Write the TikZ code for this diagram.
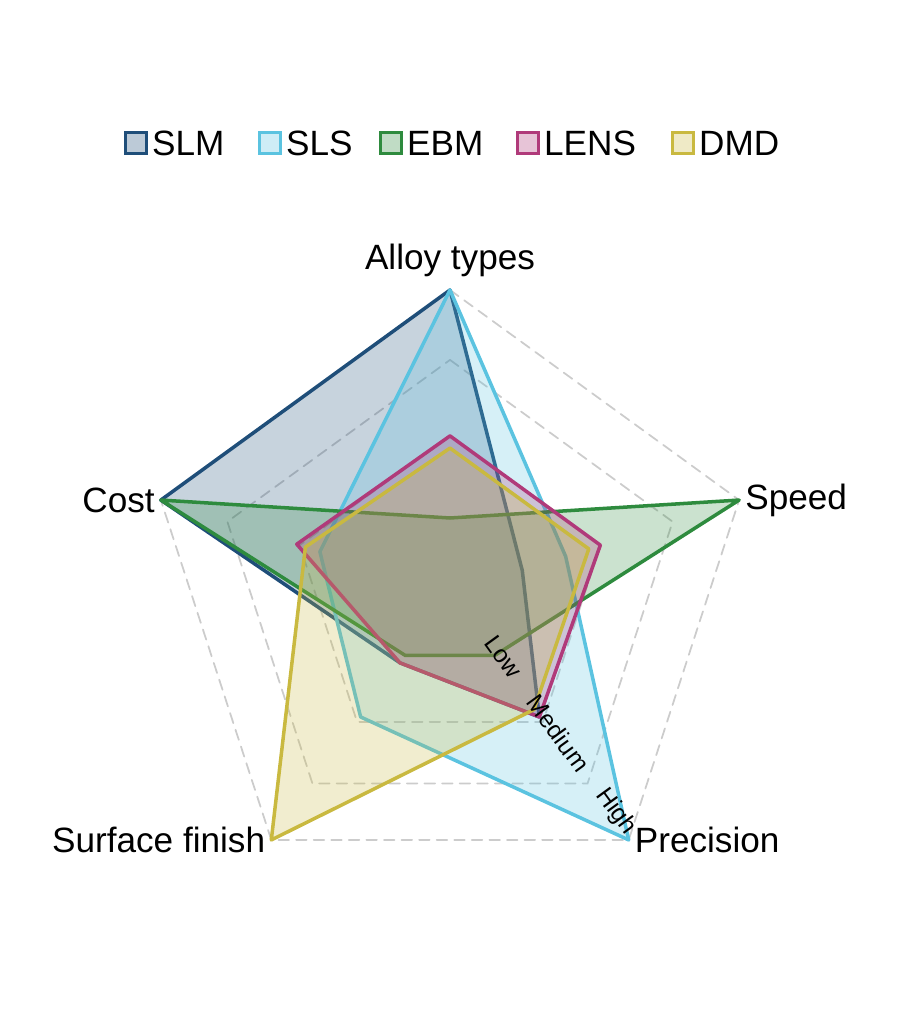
\documentclass[tikz,border=0pt]{standalone}
\usepackage{fontspec}
\setmainfont{Liberation Sans}
\usetikzlibrary{calc}
\definecolor{slm}{HTML}{1F4E79}
\definecolor{sls}{HTML}{5BC3E0}
\definecolor{ebm}{HTML}{2E8B3E}
\definecolor{lens}{HTML}{B03A7A}
\definecolor{dmd}{HTML}{C9B940}
\tikzset{
  grid/.style={gray!40, dashed, line width=1pt, dash pattern=on 6pt off 4pt},
  series/.style={draw=#1, fill=#1, fill opacity=0.25, draw opacity=1, line width=2pt, line join=round},
  axislabel/.style={font=\fontsize{20}{24}\selectfont},
  levellabel/.style={rotate=-54, font=\fontsize{14}{16}\selectfont, inner sep=1pt},
  legbox/.style={draw=#1, fill=#1!30, line width=2pt, minimum size=12pt, inner sep=0pt},
  legtext/.style={font=\fontsize{20}{24}\selectfont, anchor=west, inner sep=1pt}
}
\begin{document}
\begin{tikzpicture}[line cap=round]
  \useasboundingbox (-9,11.88) rectangle (9,-8.7);
  \def\R{6.08}

  % Grid pentagons.
  \foreach \f in {0.52,0.77,1} {
    \draw[grid] (90:\f*\R) -- (18:\f*\R) -- (-54:\f*\R) -- (-126:\f*\R) -- (162:\f*\R) -- cycle;
  }

  % Series (alloy, speed, precision, surface, cost).
  \draw[series=slm] (90:1*\R) -- (18:0.25*\R) -- (-54:0.5*\R) -- (-126:0.28*\R) -- (162:1*\R) -- cycle;
  \draw[series=sls] (90:1*\R) -- (18:0.4*\R) -- (-54:1*\R) -- (-126:0.5*\R) -- (162:0.45*\R) -- cycle;
  \draw[series=ebm] (90:0.25*\R) -- (18:1*\R) -- (-54:0.25*\R) -- (-126:0.25*\R) -- (162:1*\R) -- cycle;
  \draw[series=lens] (90:0.52*\R) -- (18:0.52*\R) -- (-54:0.5*\R) -- (-126:0.28*\R) -- (162:0.53*\R) -- cycle;
  \draw[series=dmd] (90:0.48*\R) -- (18:0.48*\R) -- (-54:0.47*\R) -- (-126:1*\R) -- (162:0.5*\R) -- cycle;

  % Axis names.
  \node[axislabel, above=4pt] (alloy) at (90:\R) {Alloy types};
  \node[axislabel, right] (speed) at (18:\R) {Speed};
  \node[axislabel, right] (prec) at (-54:\R) {Precision};
  \node[axislabel, left] (surf) at (-126:\R) {Surface finish};
  \node[axislabel, left] (cost) at (162:\R) {Cost};

  % Level names along the precision axis.
  \node[levellabel] (low) at ($(-54:0.27*\R)+(36:0.12)$) {Low};
  \node[levellabel] (med) at ($(-54:0.58*\R)+(36:0.12)$) {Medium};
  \node[levellabel] (high) at ($(-54:0.9*\R)+(36:0.12)$) {High};

  % Legend.
  \foreach \c/\t/\xx [count=\i] in {slm/SLM/-6.28, sls/SLS/-3.6, ebm/EBM/-1.18, lens/LENS/1.56, dmd/DMD/4.66} {
    \node[legbox=\c] (box\i) at (\xx,9.02) {};
    \node[legtext] (leg\i) at ([xshift=1pt]box\i.east) {\t};
  }
\end{tikzpicture}
\end{document}
